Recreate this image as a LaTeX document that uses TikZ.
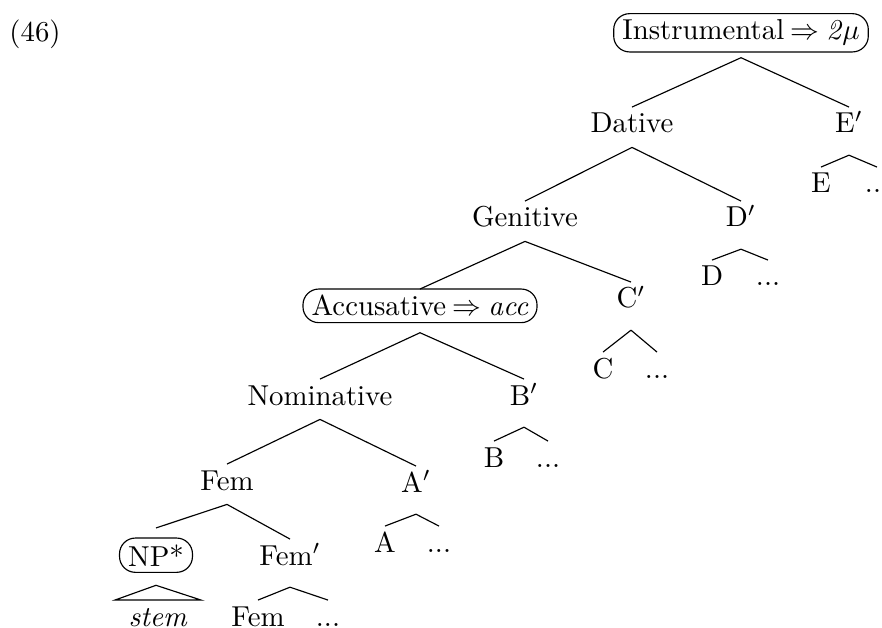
\documentclass[tikz,border=0pt]{standalone}
\usepackage{tikz}
\begin{document}
\begin{tikzpicture}[x=0.347pt,y=-0.347pt]
\tikzset{lbl/.style={inner sep=2pt,text height=6.8pt,text depth=2.8pt,anchor=base},
  bar/.style={lbl,text depth=5.5pt},
  low/.style={lbl,inner ysep=0pt,text height=8.8pt,text depth=0pt},
  rbox/.style={draw,rounded corners=5.5pt,inner xsep=3pt,inner ysep=2.2pt,outer sep=0pt,anchor=base}}
\useasboundingbox (0,0) rectangle (882,628);
\node[lbl] (ex) at (35,42) {(46)};
% spine
\node[rbox] (ins) at (741,40) {Instrumental\hspace{2.3pt}$\Rightarrow$\hspace{2.3pt}\textit{2}$\mu$};
\node[lbl] (dat) at (632,133) {Dative};
\node[bar] (ep) at (849,133) {E$'$};
\node[lbl] (gen) at (525,227) {Genitive};
\node[bar] (dp) at (741,227) {D$'$};
\node[rbox] (acc) at (420,316) {Accusative\hspace{2.3pt}$\Rightarrow$\hspace{2.3pt}\textit{acc}};
\node[bar] (cp) at (631,308) {C$'$};
\node[lbl] (nom) at (320,405) {Nominative};
\node[bar] (bp) at (524,405) {B$'$};
\node[lbl] (fem) at (227,490) {Fem};
\node[bar] (ap) at (416,492) {A$'$};
\node[rbox] (np) at (156,566) {NP*};
\node[bar] (fp) at (290,565) {Fem$'$};
% leaves
\node[lbl] (e) at (821,193) {E};
\node[lbl] (edots) at (877,193) {...};
\node[lbl] (d) at (712,286) {D};
\node[lbl] (ddots) at (768,286) {...};
\node[lbl] (c) at (603,378) {C};
\node[lbl] (cdots) at (657,378) {...};
\node[lbl] (b) at (494,467) {B};
\node[lbl] (bdots) at (548,467) {...};
\node[lbl] (a) at (385,552) {A};
\node[lbl] (adots) at (439,552) {...};
\node[low] (ff) at (258,626) {Fem};
\node[low] (fdots) at (328,626) {...};
\node[low,minimum width=29.5pt] (stem) at (158,626) {\textit{stem}};
% branches
\draw ([yshift=-2pt]ins.south) -- (dat.north);
\draw ([yshift=-2pt]ins.south) -- (ep.north);
\draw (dat.south) -- (gen.north);
\draw (dat.south) -- (dp.north);
\draw (gen.south) -- (acc.north);
\draw (gen.south) -- (cp.north);
\draw ([yshift=-3.5pt]acc.south) -- (nom.north);
\draw ([yshift=-3.5pt]acc.south) -- (bp.north);
\draw (nom.south) -- (fem.north);
\draw (nom.south) -- (ap.north);
\draw (fem.south) -- ([yshift=3.5pt]np.north);
\draw (fem.south) -- (fp.north);
\draw (ep.south) -- (e.north);
\draw (ep.south) -- (edots.north);
\draw (dp.south) -- (d.north);
\draw (dp.south) -- (ddots.north);
\draw (cp.south) -- (c.north);
\draw (cp.south) -- (cdots.north);
\draw (bp.south) -- (b.north);
\draw (bp.south) -- (bdots.north);
\draw (ap.south) -- (a.north);
\draw (ap.south) -- (adots.north);
\draw (fp.south) -- (ff.north);
\draw (fp.south) -- (fdots.north);
\draw ([yshift=-4.5pt]np.south) -- (stem.north east) -- (stem.north west) -- cycle;
\end{tikzpicture}
\end{document}
